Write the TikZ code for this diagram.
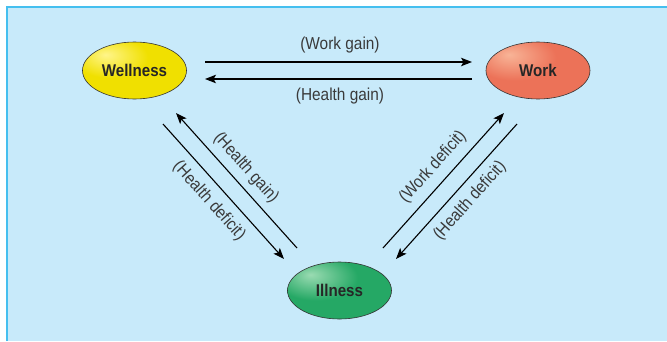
\documentclass[tikz,border=0pt]{standalone}
\usepackage{fontspec}
\setmainfont[FakeStretch=0.89]{Liberation Sans}
\usetikzlibrary{shapes.geometric,arrows.meta}
\definecolor{bgblue}{HTML}{C8EAFA}
\definecolor{frameblue}{HTML}{45BFEF}
\definecolor{labgray}{HTML}{3A3A3A}
\definecolor{yhi}{HTML}{FFF58A}
\definecolor{ymid}{HTML}{F0E000}
\definecolor{yedge}{HTML}{C4AE00}
\definecolor{rhi}{HTML}{F8B497}
\definecolor{rmid}{HTML}{EC7258}
\definecolor{redge}{HTML}{B85643}
\definecolor{ghi}{HTML}{9ADBB2}
\definecolor{gmid}{HTML}{25A865}
\definecolor{gedge}{HTML}{197849}
\pgfdeclareradialshading{yshade}{\pgfpoint{-14bp}{14bp}}{color(0bp)=(yhi); color(18bp)=(ymid); color(38bp)=(ymid); color(62bp)=(yedge); color(100bp)=(yedge)}
\pgfdeclareradialshading{rshade}{\pgfpoint{-14bp}{14bp}}{color(0bp)=(rhi); color(20bp)=(rmid); color(38bp)=(rmid); color(62bp)=(redge); color(100bp)=(redge)}
\pgfdeclareradialshading{gshade}{\pgfpoint{-14bp}{14bp}}{color(0bp)=(ghi); color(20bp)=(gmid); color(38bp)=(gmid); color(62bp)=(gedge); color(100bp)=(gedge)}
\tikzset{
  statebox/.style={ellipse, draw=black!80, line width=0.6pt, minimum width=104pt, minimum height=57pt, inner sep=0pt,
    font=\fontsize{17}{20}\selectfont\bfseries, text=black!85},
  lab/.style={font=\fontsize{17.3}{20}\selectfont, text=labgray, inner sep=0pt},
  conn/.style={line width=1.1pt, -{Stealth[length=11pt,width=8.5pt,inset=2.5pt]}},
}
\begin{document}
\begin{tikzpicture}[x=1pt,y=-1pt]
\useasboundingbox (0,0) rectangle (667,341);
\fill[white] (0,0) rectangle (667,341);
\fill[bgblue] (7,7) rectangle (667,341);
\draw[frameblue, line width=2pt] (7,341) -- (7,7) -- (667,7);

\node[statebox, shading=yshade] (wellness) at (134.5,70.5) {Wellness};
\node[statebox, shading=rshade] (work) at (538,70.5) {Work};
\node[statebox, shading=gshade] (illness) at (339.5,290.5) {Illness};

% horizontal connectors
\coordinate (wg1) at (205,62);
\coordinate (wg2) at (472,62);
\coordinate (hg1) at (472,79);
\coordinate (hg2) at (205,79);
\draw[conn] (wg1) -- (wg2);
\draw[conn] (hg1) -- (hg2);

% left diagonals
\coordinate (hdl1) at (163,124);
\coordinate (hdl2) at (284,259);
\coordinate (hgl1) at (297,248);
\coordinate (hgl2) at (176,113);
\draw[conn] (hdl1) -- (hdl2);
\draw[conn] (hgl1) -- (hgl2);

% right diagonals
\coordinate (wdr1) at (383,248);
\coordinate (wdr2) at (504,113);
\coordinate (hdr1) at (517,124);
\coordinate (hdr2) at (396,259);
\draw[conn] (wdr1) -- (wdr2);
\draw[conn] (hdr1) -- (hdr2);

\node[lab] (twg) at (340,45) {(Work gain)};
\node[lab] (thg) at (340,96) {(Health gain)};
\node[lab, rotate=-48.2] (thgl) at (246,168) {(Health gain)};
\node[lab, rotate=-48.2] (thdl) at (209,201) {(Health deficit)};
\node[lab, rotate=48.2] (twdr) at (433,167) {(Work deficit)};
\node[lab, rotate=48.2] (thdr) at (470,201) {(Health deficit)};
\end{tikzpicture}
\end{document}
